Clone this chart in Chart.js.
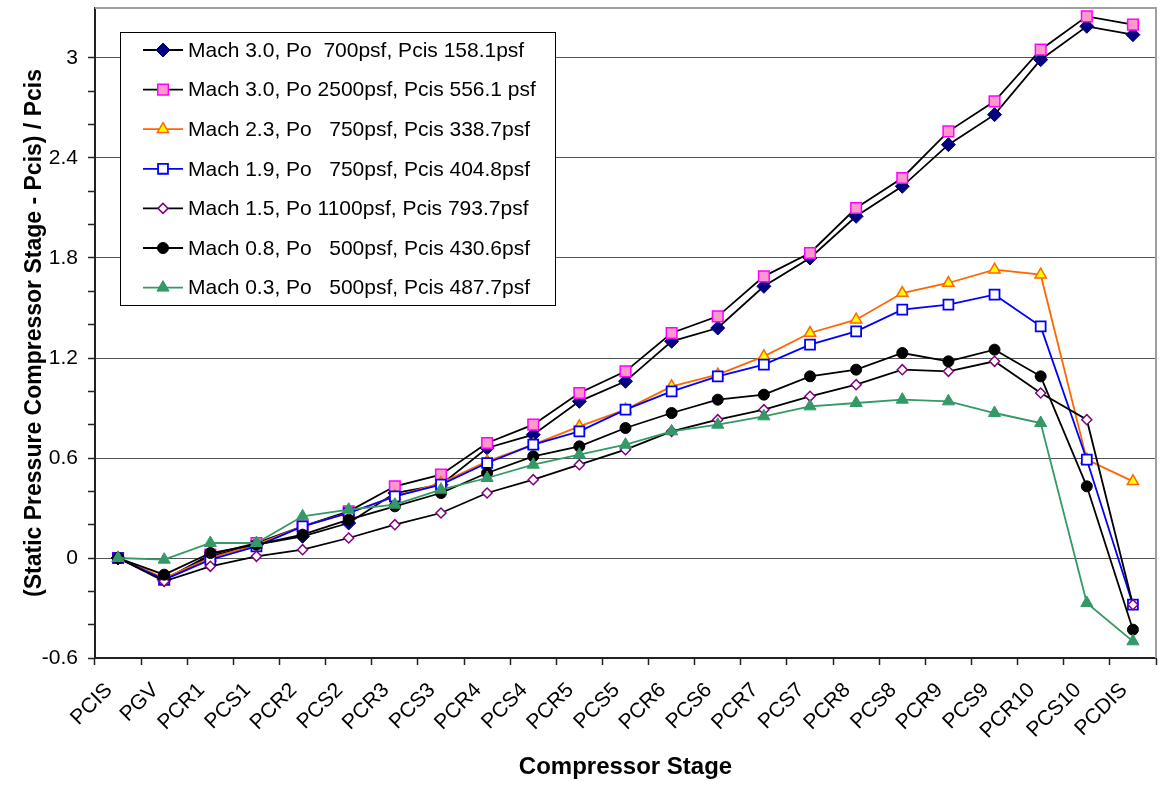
<!DOCTYPE html>
<html lang="en">
<head>
  <meta charset="UTF-8">
  <title>Static Pressure by Compressor Stage</title>
  <script src="https://cdn.jsdelivr.net/npm/chart.js"></script>
  <style>
    body { margin: 0; background: #ffffff; }
    .chart-container { position: relative; width: 1159px; height: 788px; }
  </style>
</head>
<body>
  <div class="chart-container">
    <canvas id="stageChart" width="1159" height="788"></canvas>
  </div>

  <script>
    // categories
    const stages = ['PCIS', 'PGV', 'PCR1', 'PCS1', 'PCR2', 'PCS2', 'PCR3', 'PCS3', 'PCR4', 'PCS4', 'PCR5', 'PCS5',
                    'PCR6', 'PCS6', 'PCR7', 'PCS7', 'PCR8', 'PCS8', 'PCR9', 'PCS9', 'PCR10', 'PCS10', 'PCDIS'];

    // series labels
    const seriesNames = [
      'Mach 3.0, Po  700psf, Pcis 158.1psf',
      'Mach 3.0, Po 2500psf, Pcis 556.1 psf',
      'Mach 2.3, Po   750psf, Pcis 338.7psf',
      'Mach 1.9, Po   750psf, Pcis 404.8psf',
      'Mach 1.5, Po 1100psf, Pcis 793.7psf',
      'Mach 0.8, Po   500psf, Pcis 430.6psf',
      'Mach 0.3, Po   500psf, Pcis 487.7psf'
    ];

    // (Ps - Pcis) / Pcis values
    const mach30lo = [0, -0.13, 0.01, 0.08, 0.13, 0.21, 0.39, 0.44, 0.66, 0.74, 0.94, 1.06, 1.30, 1.38, 1.63, 1.80, 2.05, 2.23, 2.48, 2.66, 2.99, 3.19, 3.14];
    const mach30hi = [0, -0.13, 0.02, 0.09, 0.19, 0.28, 0.43, 0.50, 0.69, 0.80, 0.99, 1.12, 1.35, 1.45, 1.69, 1.83, 2.10, 2.28, 2.56, 2.74, 3.05, 3.25, 3.20];
    const mach23   = [0, -0.12, 0.00, 0.08, 0.19, 0.27, 0.37, 0.45, 0.58, 0.68, 0.79, 0.89, 1.03, 1.10, 1.21, 1.35, 1.43, 1.59, 1.65, 1.73, 1.70, 0.59, 0.46];
    const mach19   = [0, -0.13, -0.01, 0.07, 0.19, 0.27, 0.37, 0.44, 0.57, 0.68, 0.76, 0.89, 1.00, 1.09, 1.16, 1.28, 1.36, 1.49, 1.52, 1.58, 1.39, 0.59, -0.28];
    const mach15   = [0, -0.14, -0.05, 0.01, 0.05, 0.12, 0.20, 0.27, 0.39, 0.47, 0.56, 0.65, 0.76, 0.83, 0.89, 0.97, 1.04, 1.13, 1.12, 1.18, 0.99, 0.83, -0.28];
    const mach08   = [0, -0.10, 0.03, 0.08, 0.14, 0.23, 0.31, 0.39, 0.51, 0.61, 0.67, 0.78, 0.87, 0.95, 0.98, 1.09, 1.13, 1.23, 1.18, 1.25, 1.09, 0.43, -0.43];
    const mach03   = [0, -0.01, 0.09, 0.09, 0.25, 0.29, 0.32, 0.41, 0.48, 0.56, 0.62, 0.68, 0.76, 0.80, 0.85, 0.91, 0.93, 0.95, 0.94, 0.87, 0.81, -0.27, -0.50];

    const FONT = "'Liberation Sans', Arial, sans-serif";

    function isMajor(v) {
      const q = v / 0.6;
      return Math.abs(q - Math.round(q)) < 1e-6;
    }

    function series(i, data, line, style, radius, fill, edge, edgeWidth) {
      return {
        label: seriesNames[i],
        data: data,
        borderColor: line,
        borderWidth: 1.8,
        pointStyle: style,
        pointRadius: radius,
        pointHoverRadius: radius,
        pointBackgroundColor: fill,
        pointBorderColor: edge,
        pointBorderWidth: edgeWidth,
        tension: 0,
        clip: false,
        order: 7 - i   // later series on top, like Excel
      };
    }

    // legend sits inside the plot area, top left
    const insideLegend = {
      id: 'insideLegend',
      afterDatasetsDraw(chart) {
        const ctx = chart.ctx;
        ctx.save();
        ctx.fillStyle = '#ffffff';
        ctx.fillRect(120, 32, 435, 273);
        ctx.strokeStyle = '#000000';
        ctx.lineWidth = 1;
        ctx.strokeRect(120.5, 32.5, 435, 273);
        ctx.font = '21px ' + FONT;
        ctx.textBaseline = 'middle';
        chart.data.datasets.forEach((ds, i) => {
          const y = 50 + i * 39.6;
          ctx.strokeStyle = ds.borderColor;
          ctx.lineWidth = ds.borderWidth;
          ctx.beginPath();
          ctx.moveTo(143, y);
          ctx.lineTo(183, y);
          ctx.stroke();
          ctx.fillStyle = ds.pointBackgroundColor;
          ctx.strokeStyle = ds.pointBorderColor;
          ctx.lineWidth = ds.pointBorderWidth;
          if (Chart.helpers && Chart.helpers.drawPoint) {
            Chart.helpers.drawPoint(ctx, {
              pointStyle: ds.pointStyle, radius: ds.pointRadius,
              borderWidth: ds.pointBorderWidth, rotation: 0
            }, 163, y);
          }
          ctx.fillStyle = '#000000';
          ctx.fillText(ds.label, 188, y + 1);
        });
        ctx.restore();
      }
    };

    // grey frame on top and right of the plot area
    const plotFrame = {
      id: 'plotFrame',
      beforeDatasetsDraw(chart) {
        const { ctx, chartArea } = chart;
        ctx.save();
        ctx.strokeStyle = '#a0a0a0';
        ctx.lineWidth = 2;
        ctx.beginPath();
        ctx.moveTo(chartArea.left, chartArea.top);
        ctx.lineTo(chartArea.right, chartArea.top);
        ctx.lineTo(chartArea.right, chartArea.bottom);
        ctx.stroke();
        ctx.restore();
      }
    };

    const ctx = document.getElementById('stageChart').getContext('2d');

    new Chart(ctx, {
      type: 'line',
      data: {
        labels: stages,
        datasets: [
          series(0, mach30lo, '#000000', 'rectRot', 7,   '#000080', '#000080', 1),
          series(1, mach30hi, '#000000', 'rect',    7.5, '#ff99cc', '#ff00ff', 1.5),
          series(2, mach23,   '#ff6600', 'triangle', 6.5, '#ffff00', '#ff6600', 1.5),
          series(3, mach19,   '#0000ff', 'rect',    7,   '#ffffff', '#0000ff', 1.8),
          series(4, mach15,   '#000000', 'rectRot', 5,   '#ffffff', '#800080', 1.5),
          series(5, mach08,   '#000000', 'circle',  5.5, '#000000', '#000000', 1),
          series(6, mach03,   '#339966', 'triangle', 7,  '#339966', '#339966', 1)
        ]
      },
      options: {
        responsive: false,
        animation: false,
        layout: { autoPadding: false, padding: { top: 8, right: 3, left: 0, bottom: 0 } },
        plugins: {
          legend: { display: false },
          tooltip: { enabled: false }
        },
        scales: {
          x: {
            offset: true,
            grid: {
              offset: true,
              drawOnChartArea: false,
              tickLength: 7,
              tickColor: '#222222',
              tickWidth: 1.5
            },
            border: { color: '#222222', width: 2 },
            ticks: {
              color: '#000000',
              font: { family: FONT, size: 21 },
              minRotation: 45,
              maxRotation: 45,
              autoSkip: false,
              padding: 13,
              labelOffset: -9
            },
            title: {
              display: true,
              text: 'Compressor Stage',
              color: '#000000',
              font: { family: FONT, size: 24, weight: 'bold' },
              padding: { top: 0, bottom: 6 }
            },
            afterFit(scale) {
              scale.height = 130;
              scale.paddingLeft = 0;
              scale.paddingRight = 0;
            }
          },
          y: {
            min: -0.6,
            max: 3.3,
            grid: {
              color: (c) => (c.tick && isMajor(c.tick.value) && c.tick.value > -0.5) ? '#555555' : 'rgba(0,0,0,0)',
              lineWidth: 1,
              tickLength: 7,
              tickColor: '#222222',
              tickWidth: 1.5
            },
            border: { color: '#222222', width: 2 },
            ticks: {
              stepSize: 0.2,
              color: '#000000',
              font: { family: FONT, size: 21 },
              padding: 10,
              callback: (v) => isMajor(v) ? String(Math.round(v * 10) / 10) : ''
            },
            afterBuildTicks(scale) {
              scale.ticks = scale.ticks.filter(t => t.value < 3.25);
            },
            title: {
              display: true,
              text: '(Static Pressure Compressor Stage - Pcis) / Pcis',
              color: '#000000',
              font: { family: FONT, size: 23, weight: 'bold' },
              padding: { top: 21, bottom: 0 }
            },
            afterFit(scale) {
              scale.width = 95;
              scale.paddingTop = 0;
              scale.paddingBottom = 0;
            }
          }
        }
      },
      plugins: [plotFrame, insideLegend]
    });
  </script>
</body>
</html>
